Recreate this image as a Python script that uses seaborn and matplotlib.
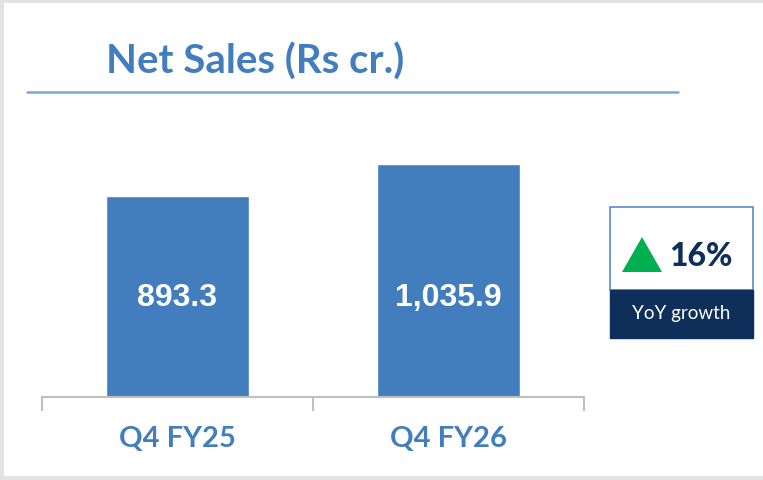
import matplotlib.pyplot as plt
import matplotlib.patches as mpatches
import seaborn as sns
import pandas as pd

# data
quarters = ["Q4 FY25", "Q4 FY26"]
net_sales = [893.3, 1035.9]
value_labels = ["893.3", "1,035.9"]
growth_text = "16%"
growth_caption = "YoY growth"

blue = "#427EBE"
navy = "#0E2F5A"
axis_grey = "#BFBFBF"

sns.set_theme(style="white")
plt.rcParams['font.family'] = ['Lato', 'DejaVu Sans']

df = pd.DataFrame({"quarter": quarters, "sales": net_sales})

fig = plt.figure(figsize=(7.63, 4.80), dpi=100)
ax = fig.add_axes([0.055, 0.1729, 0.7104, 0.5771])

sns.barplot(data=df, x="quarter", y="sales", color=blue, width=0.53,
            saturation=1, ax=ax)
ax.set_xlim(-0.5, 1.5)
ax.set_ylim(0, 1232)

# value labels inside bars
for i, lab in enumerate(value_labels):
    ax.text(i, 440, lab, ha="center", va="center", color="white",
            fontsize=23, fontweight="bold", family="Liberation Sans")

# axis: only bottom line with tick marks between categories
for s in ["top", "left", "right"]:
    ax.spines[s].set_visible(False)
ax.spines["bottom"].set_color(axis_grey)
ax.spines["bottom"].set_linewidth(1.5)
ax.set_yticks([])
ax.set_xticks([-0.5, 0.5, 1.5])
ax.set_xticklabels([])
ax.tick_params(axis="x", bottom=True, direction="out", length=10, width=1.5,
               color=axis_grey)
ax.set_xticks([0, 1], minor=True)
ax.set_xticklabels(quarters, minor=True, fontsize=21, fontweight="bold", color=blue)
ax.tick_params(axis="x", which="minor", bottom=False, pad=17)
ax.set_xlabel("")
ax.set_ylabel("")


def fx(px):
    return px / 763


def fy(py):
    return 1 - py / 480


# title and underline
fig.text(fx(106), fy(62), "Net Sales (Rs cr.)", ha="left", va="center",
         fontsize=29, fontweight="bold", color=blue)
fig.add_artist(plt.Line2D([fx(27), fx(678)], [fy(92), fy(92)],
                          color="#7FA6D6", lw=1.8))

# YoY growth box
fig.add_artist(mpatches.Rectangle((fx(610), fy(290)), fx(753) - fx(610), fy(207) - fy(290),
                                  facecolor="white", edgecolor="#5B8CC8", lw=1.2,
                                  transform=fig.transFigure))
fig.add_artist(mpatches.Rectangle((fx(610), fy(338)), fx(753) - fx(610), fy(290) - fy(338),
                                  facecolor=navy, edgecolor=navy, lw=1,
                                  transform=fig.transFigure))
fig.add_artist(mpatches.Polygon([(fx(622), fy(272)), (fx(662), fy(272)), (fx(642), fy(237))],
                                closed=True, facecolor="#00B050", edgecolor="none",
                                transform=fig.transFigure))
fig.text(fx(701), fy(256), growth_text, ha="center", va="center", fontsize=23,
         fontweight="black", color=navy)
fig.text(fx(681), fy(314), growth_caption, ha="center", va="center", fontsize=13.5,
         color="white")

# light grey slide frame
frame = "#E3E3E3"
fig.add_artist(mpatches.Rectangle((0, fy(3)), 1, 3 / 480, facecolor=frame,
                                  edgecolor="none", transform=fig.transFigure))
fig.add_artist(mpatches.Rectangle((0, 0), fx(4), 1, facecolor=frame,
                                  edgecolor="none", transform=fig.transFigure))
fig.add_artist(mpatches.Rectangle((0, 0), 1, 4 / 480, facecolor=frame,
                                  edgecolor="none", transform=fig.transFigure))

fig.savefig("out.png", dpi=100)
